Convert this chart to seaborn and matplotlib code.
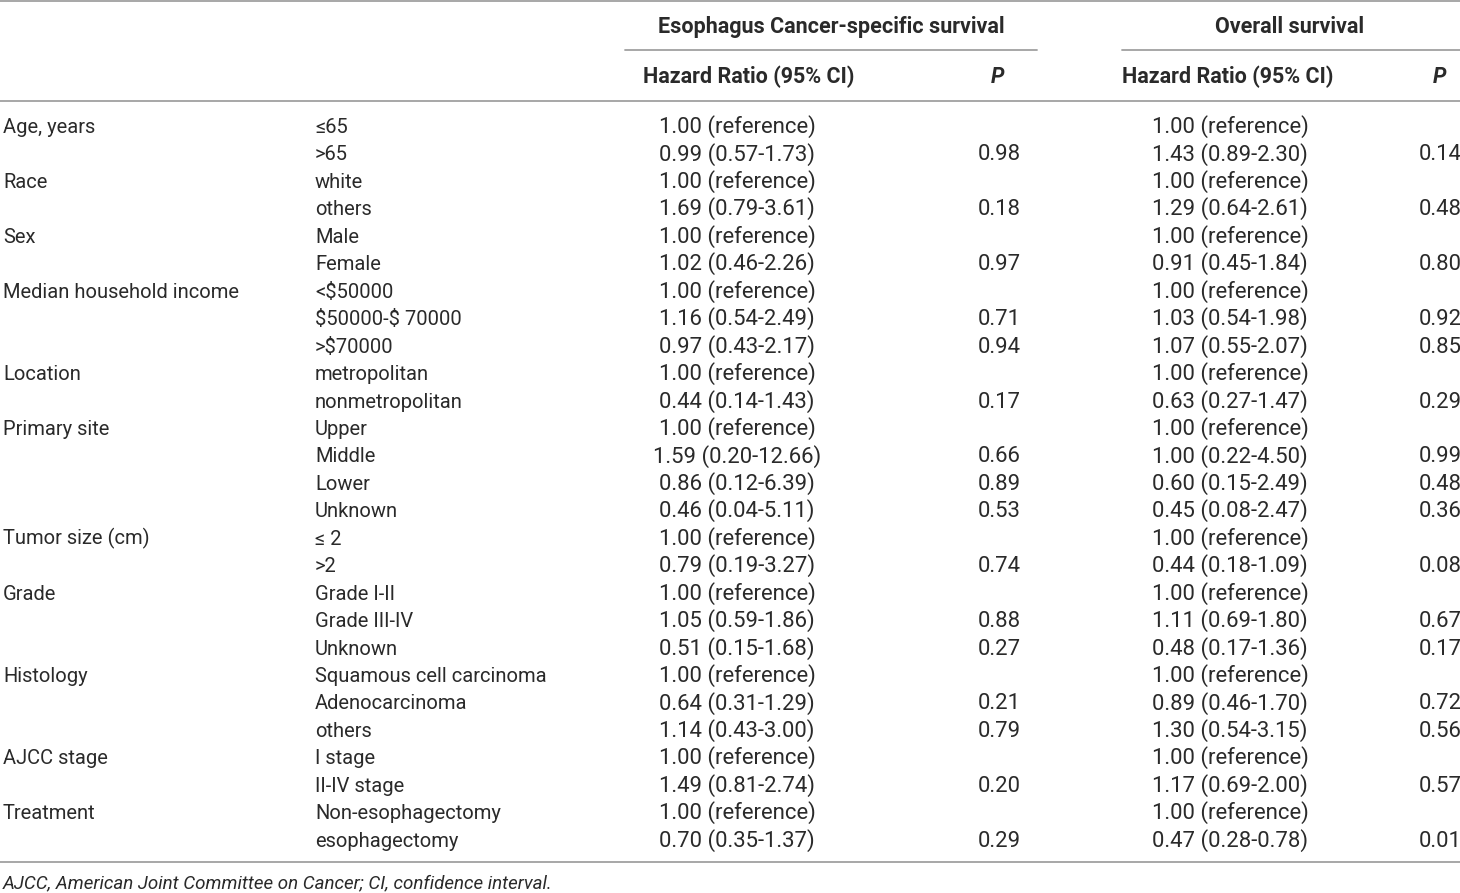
import matplotlib
matplotlib.use('Agg')
import matplotlib.pyplot as plt
import seaborn as sns
import pandas as pd

sns.set_theme(style='white')
plt.rcParams['font.family'] = ['Roboto', 'DejaVu Sans']
plt.rcParams['text.parse_math'] = False

# table contents
variables = ['Age, years', '', 'Race', '', 'Sex', '', 'Median household income', '', '',
             'Location', '', 'Primary site', '', '', '', 'Tumor size (cm)', '',
             'Grade', '', '', 'Histology', '', '', 'AJCC stage', '', 'Treatment', '']
levels = ['≤65', '>65', 'white', 'others', 'Male', 'Female', '<$50000', '$50000-$ 70000', '>$70000',
          'metropolitan', 'nonmetropolitan', 'Upper', 'Middle', 'Lower', 'Unknown', '≤ 2', '>2',
          'Grade I-II', 'Grade III-IV', 'Unknown', 'Squamous cell carcinoma', 'Adenocarcinoma', 'others',
          'I stage', 'II-IV stage', 'Non-esophagectomy', 'esophagectomy']
ref = '1.00 (reference)'
ecss_hr = [ref, '0.99 (0.57-1.73)', ref, '1.69 (0.79-3.61)', ref, '1.02 (0.46-2.26)', ref,
           '1.16 (0.54-2.49)', '0.97 (0.43-2.17)', ref, '0.44 (0.14-1.43)', ref, '1.59 (0.20-12.66)',
           '0.86 (0.12-6.39)', '0.46 (0.04-5.11)', ref, '0.79 (0.19-3.27)', ref, '1.05 (0.59-1.86)',
           '0.51 (0.15-1.68)', ref, '0.64 (0.31-1.29)', '1.14 (0.43-3.00)', ref, '1.49 (0.81-2.74)',
           ref, '0.70 (0.35-1.37)']
ecss_p = ['', '0.98', '', '0.18', '', '0.97', '', '0.71', '0.94', '', '0.17', '', '0.66', '0.89', '0.53',
          '', '0.74', '', '0.88', '0.27', '', '0.21', '0.79', '', '0.20', '', '0.29']
os_hr = [ref, '1.43 (0.89-2.30)', ref, '1.29 (0.64-2.61)', ref, '0.91 (0.45-1.84)', ref,
         '1.03 (0.54-1.98)', '1.07 (0.55-2.07)', ref, '0.63 (0.27-1.47)', ref, '1.00 (0.22-4.50)',
         '0.60 (0.15-2.49)', '0.45 (0.08-2.47)', ref, '0.44 (0.18-1.09)', ref, '1.11 (0.69-1.80)',
         '0.48 (0.17-1.36)', ref, '0.89 (0.46-1.70)', '1.30 (0.54-3.15)', ref, '1.17 (0.69-2.00)',
         ref, '0.47 (0.28-0.78)']
os_p = ['', '0.14', '', '0.48', '', '0.80', '', '0.92', '0.85', '', '0.29', '', '0.99', '0.48', '0.36',
        '', '0.08', '', '0.67', '0.17', '', '0.72', '0.56', '', '0.57', '', '0.01']
groups = ['Esophagus Cancer-specific survival', 'Overall survival']
subheads = ['Hazard Ratio (95% CI)', 'P']
footnote = 'AJCC, American Joint Committee on Cancer; CI, confidence interval.'

df = pd.DataFrame({'var': variables, 'level': levels, 'ecss_hr': ecss_hr, 'ecss_p': ecss_p,
                   'os_hr': os_hr, 'os_p': os_p})

fig = plt.figure(figsize=(14.6, 8.93), dpi=100)
ax = fig.add_axes([0, 0, 1, 1])
ax.set_xlim(0, 1460)
ax.set_ylim(893, 0)
ax.axis('off')

fs_lab, fs_num, fs_head = 14.5, 15.9, 15.5
tc = '#2a2a2a'
col_x = {'var': (3, 'left', fs_lab), 'level': (315, 'left', fs_lab),
         'ecss_hr': (737, 'center', fs_num), 'ecss_p': (999, 'center', fs_num),
         'os_hr': (1230, 'center', fs_num), 'os_p': (1440, 'center', fs_num)}
y0, dy = 133, 27.45
for i, row in df.iterrows():
    y = y0 + i * dy
    for c, (x, ha, fs) in col_x.items():
        if row[c]:
            ax.text(x, y, row[c], ha=ha, va='baseline', fontsize=fs, color=tc)

# header
lc = '#a0a0a0'
ax.text(831, 33, groups[0], ha='center', va='baseline', fontsize=fs_head, fontweight='bold', color=tc)
ax.text(1290, 33, groups[1], ha='center', va='baseline', fontsize=fs_head, fontweight='bold', color=tc)
for xh, xp in [(749, 998), (1228, 1440)]:
    ax.text(xh, 83, subheads[0], ha='center', va='baseline', fontsize=fs_head,
            fontweight='bold', color=tc)
    ax.text(xp, 83, subheads[1], ha='center', va='baseline', fontsize=fs_head,
            fontweight='bold', fontstyle='italic', color=tc)
ax.plot([0, 1460], [1, 1], color=lc, lw=1.3)
ax.plot([625, 1037], [50, 50], color=lc, lw=1.3)
ax.plot([1122, 1460], [50, 50], color=lc, lw=1.3)
ax.plot([0, 1460], [101, 101], color=lc, lw=1.3)
ax.plot([0, 1460], [862, 862], color=lc, lw=1.3)
ax.text(3, 888, footnote, ha='left', va='baseline', fontsize=13.5, fontstyle='italic', color=tc)

fig.savefig('out.png', dpi=100)
